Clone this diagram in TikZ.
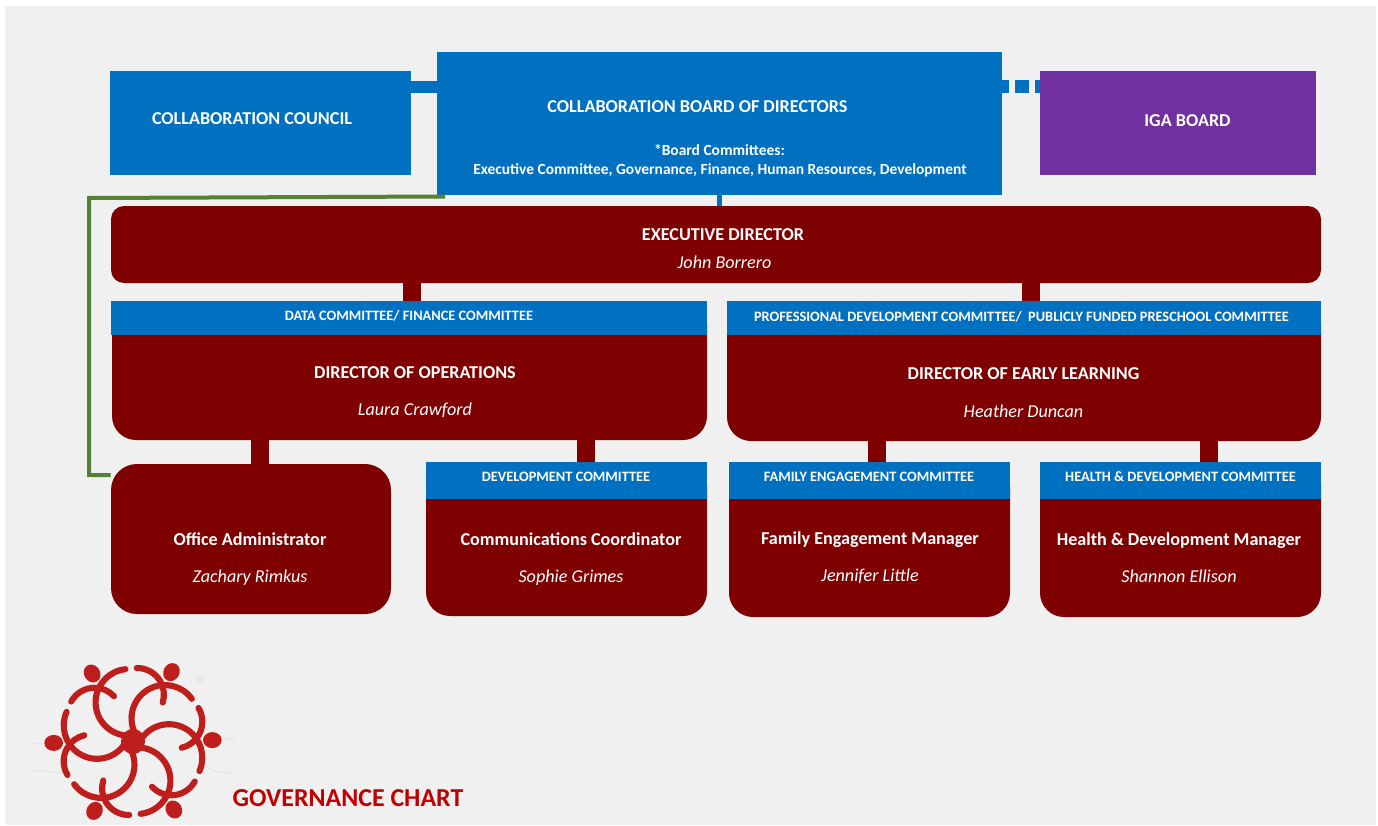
\documentclass[tikz,border=0pt]{standalone}
\usepackage{fontspec}
\setmainfont{Carlito}
\definecolor{pagegrey}{HTML}{F0F0F0}
\definecolor{chartblue}{HTML}{0070C0}
\definecolor{chartred}{HTML}{7F0000}
\definecolor{chartpurple}{HTML}{7030A0}
\definecolor{chartgreen}{HTML}{548235}
\definecolor{titlered}{HTML}{C00000}
\definecolor{logored}{HTML}{BE1E1C}
\definecolor{logoghost}{HTML}{E6E6E6}
\tikzset{
	boxsize/.style 2 args={minimum width=#1*0.75pt, minimum height=#2*0.75pt, inner sep=0pt},
	bluebox/.style={fill=chartblue},
	purplebox/.style={fill=chartpurple},
	redbox/.style={fill=chartred, rounded corners=#1*0.75pt},
	headtext/.style={text=white, inner sep=0pt, yshift=-0.5pt, font=\fontsize{13.6}{15}\selectfont\bfseries},
	nametext/.style={text=white, inner sep=0pt, yshift=-0.5pt, font=\fontsize{13.6}{15}\selectfont\itshape},
	smalltext/.style={text=white, inner sep=0pt, yshift=-0.5pt, font=\fontsize{10.75}{12}\selectfont\bfseries},
	notetext/.style={text=white, inner sep=0pt, yshift=-0.5pt, font=\fontsize{11.6}{13}\selectfont\bfseries},
	redlink/.style={draw=chartred, line width=13.5pt},
	logoarm/.style={draw=logored, line width=4.6pt, line cap=round},
}
\begin{document}
\begin{tikzpicture}[x=0.75pt, y=-0.75pt]

	\useasboundingbox (0,0) rectangle (1378,825);
	\fill[pagegrey] (5,6) rectangle (1376,825);

	\coordinate (boardlink) at (719.5,200);
	\coordinate (greenstart) at (445,196.5);
	\coordinate (greencorner) at (89,198);
	\coordinate (opsdrop) at (412,290);
	\coordinate (earlydrop) at (1031,290);
	\coordinate (admindrop) at (260,450);
	\coordinate (devdrop) at (586,450);
	\coordinate (famdrop) at (877,450);
	\coordinate (healthdrop) at (1209,450);

	\node [boxsize={301}{104}, bluebox] (council) at (260.5,123) {};
	\node [boxsize={565}{143}, bluebox] (board) at (719.5,123.5) {};
	\node [boxsize={276}{104}, purplebox] (iga) at (1178,123) {};
	\node [boxsize={1210}{77}, redbox=13] (execdir) at (716,244.5) {};

	\node [boxsize={595}{139}, redbox=24] (opsbox) at (409.5,370.5) {};
	\node [boxsize={596}{34}, bluebox] (opshead) at (409,318) {};
	\node [boxsize={594}{140}, redbox=24] (earlybox) at (1024,371) {};
	\node [boxsize={594}{34}, bluebox] (earlyhead) at (1024,318) {};

	\node [boxsize={280}{150}, redbox=26] (admin) at (251,539) {};
	\node [boxsize={281}{154}, redbox=24] (devbox) at (566.5,539) {};
	\node [boxsize={281}{37}, bluebox] (devhead) at (566.5,480.5) {};
	\node [boxsize={281}{155}, redbox=24] (fambox) at (869.5,539.5) {};
	\node [boxsize={281}{37}, bluebox] (famhead) at (869.5,480.5) {};
	\node [boxsize={281}{155}, redbox=24] (healthbox) at (1180.5,539.5) {};
	\node [boxsize={281}{37}, bluebox] (healthhead) at (1180.5,480.5) {};

	\draw [chartblue, line width=9.4pt] (council.east |- 0,87) -- (board.west |- 0,87);
	\draw [chartblue, line width=9.75pt, dash pattern=on 10.5pt off 4.5pt, dash phase=5.25pt] (board.east |- 0,86.5) -- (iga.west |- 0,86.5);
	\draw [chartblue, line width=3.75pt] (boardlink |- board.south) -- (boardlink |- execdir.north);
	\draw [chartgreen, line width=3pt] (greenstart) -- (greencorner) -- (greencorner |- 0,475) -- (admin.west |- 0,475);

	\draw [redlink] (opsdrop |- execdir.south) -- (opsdrop |- opshead.north);
	\draw [redlink] (earlydrop |- execdir.south) -- (earlydrop |- earlyhead.north);
	\draw [redlink] (admindrop |- opsbox.south) -- (admindrop |- admin.north);
	\draw [redlink] (devdrop |- opsbox.south) -- (devdrop |- devhead.north);
	\draw [redlink] (famdrop |- earlybox.south) -- (famdrop |- famhead.north);
	\draw [redlink] (healthdrop |- earlybox.south) -- (healthdrop |- healthhead.north);

	\node [headtext] (councilname) at (252,118) {COLLABORATION COUNCIL};
	\node [headtext] (boardname) at (697.5,106) {COLLABORATION BOARD OF DIRECTORS};
	\node [notetext] (boardnote) at (719.5,149.5) {*Board Committees:};
	\node [notetext] (boardlist) at (720,169.5) {Executive Committee, Governance, Finance, Human Resources, Development};
	\node [headtext] (iganame) at (1187.5,120) {IGA BOARD};

	\node [headtext] (execname) at (723,234) {EXECUTIVE DIRECTOR};
	\node [nametext] (execperson) at (724.5,262) {John Borrero};

	\node [smalltext] (opscommittee) at (409,315) {DATA COMMITTEE/ FINANCE COMMITTEE};
	\node [headtext] (opsname) at (415,372) {DIRECTOR OF OPERATIONS};
	\node [nametext] (opsperson) at (415,409.5) {Laura Crawford};

	\node [smalltext] (earlycommittee) at (1021.5,316) {PROFESSIONAL DEVELOPMENT COMMITTEE/\ \ PUBLICLY FUNDED PRESCHOOL COMMITTEE};
	\node [headtext] (earlyname) at (1023.5,373) {DIRECTOR OF EARLY LEARNING};
	\node [nametext] (earlyperson) at (1023.5,411) {Heather Duncan};

	\node [headtext] (adminname) at (250,539) {Office Administrator};
	\node [nametext] (adminperson) at (250,577) {Zachary Rimkus};

	\node [smalltext] (devcommittee) at (566,476) {DEVELOPMENT COMMITTEE};
	\node [headtext] (devname) at (571,539) {Communications Coordinator};
	\node [nametext] (devperson) at (571,576.5) {Sophie Grimes};

	\node [smalltext] (famcommittee) at (869,476) {FAMILY ENGAGEMENT COMMITTEE};
	\node [headtext] (famname) at (870,539) {Family Engagement Manager};
	\node [nametext] (famperson) at (870,576) {Jennifer Little};

	\node [smalltext] (healthcommittee) at (1180.5,476) {HEALTH \& DEVELOPMENT COMMITTEE};
	\node [headtext] (healthname) at (1179,539.5) {Health \& Development Manager};
	\node [nametext] (healthperson) at (1179,576) {Shannon Ellison};

	\node [inner sep=0pt, text=titlered, font=\fontsize{19.4}{21}\selectfont\bfseries] (charttitle) at (348,798) {GOVERNANCE CHART};

	\begin{scope}[shift={(0,640)}, x=0.25pt, y=-0.25pt]
		\draw [logoghost, line width=1pt] (90,310) -- (185,310);
		\draw [logoghost, line width=1pt] (610,297) -- (705,297);
		\draw [logoghost, line width=1pt] (90,392) -- (130,392) -- (190,400);
		\draw [logoghost, line width=1pt] (615,378) -- (650,395) -- (705,400);
		\draw [logoghost, line width=1.5pt] (600,119) circle (10);
	\end{scope}

	\begin{scope}[shift={(133,741.5)}, x=0.25pt, y=0.25pt]
		\foreach \a in {0,60,...,300} {
			\begin{scope}[rotate=\a+1]
				\draw [logoarm] (107,-50) ++(145:100) arc [start angle=145, end angle=-25, radius=100];
				\draw [logoarm] (129,57) ++(30:80) arc [start angle=30, end angle=-78, radius=80];
				\fill [logored] (238,0) ellipse (28 and 24);
			\end{scope}
		}
		\fill [logored] (0,0) ellipse (36 and 38);
	\end{scope}

\end{tikzpicture}
\end{document}
